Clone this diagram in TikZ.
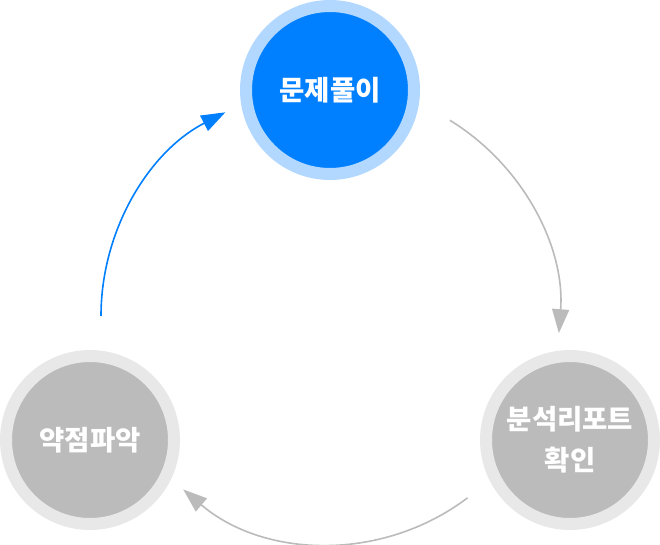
\documentclass[tikz,border=0pt]{standalone}
\usepackage{fontspec}
\newfontfamily\kr{Noto Sans CJK KR}
\usetikzlibrary{arrows.meta,calc}
\definecolor{bluemain}{HTML}{0080FF}
\definecolor{bluering}{HTML}{B3D8FF}
\definecolor{greymain}{HTML}{BBBBBB}
\definecolor{greyring}{HTML}{E8E8E8}
\definecolor{greyarrow}{HTML}{BBBBBB}
\begin{document}
\begin{tikzpicture}[x=1pt,y=1pt,
  stage/.style={circle, minimum size=168pt, inner sep=0pt, line width=12pt,
    text=white, align=center, font=\kr\bfseries\fontsize{27.5}{41}\selectfont},
  activestage/.style={stage, fill=bluemain, draw=bluering},
  idlestage/.style={stage, fill=greymain, draw=greyring},
  cyclearrow/.style={line width=1.6pt, -{Triangle[length=24pt,width=17pt]}}
]
\useasboundingbox (0,0) rectangle (660,-545);
\node[activestage] (solve) at (330,-90) {문제풀이};
\node[idlestage] (report) at (570,-440) {분석리포트\\확인};
\node[idlestage] (weak) at (90,-440) {약점파악};
\coordinate (o) at (330,-316);
\coordinate (s1) at ($(o)+(58.5:229.5)$);
\coordinate (s2) at ($(o)+(-52.9:228)$);
\coordinate (s3) at ($(o)+(180:229)$);
\draw[cyclearrow, greyarrow] (s1) arc[start angle=58.5, end angle=-4.3, radius=229.5];
\draw[cyclearrow, greyarrow] (s2) arc[start angle=-52.9, end angle=-130.5, radius=227];
\draw[cyclearrow, bluemain] (s3) arc[start angle=180, end angle=117.2, radius=229];
\end{tikzpicture}
\end{document}
